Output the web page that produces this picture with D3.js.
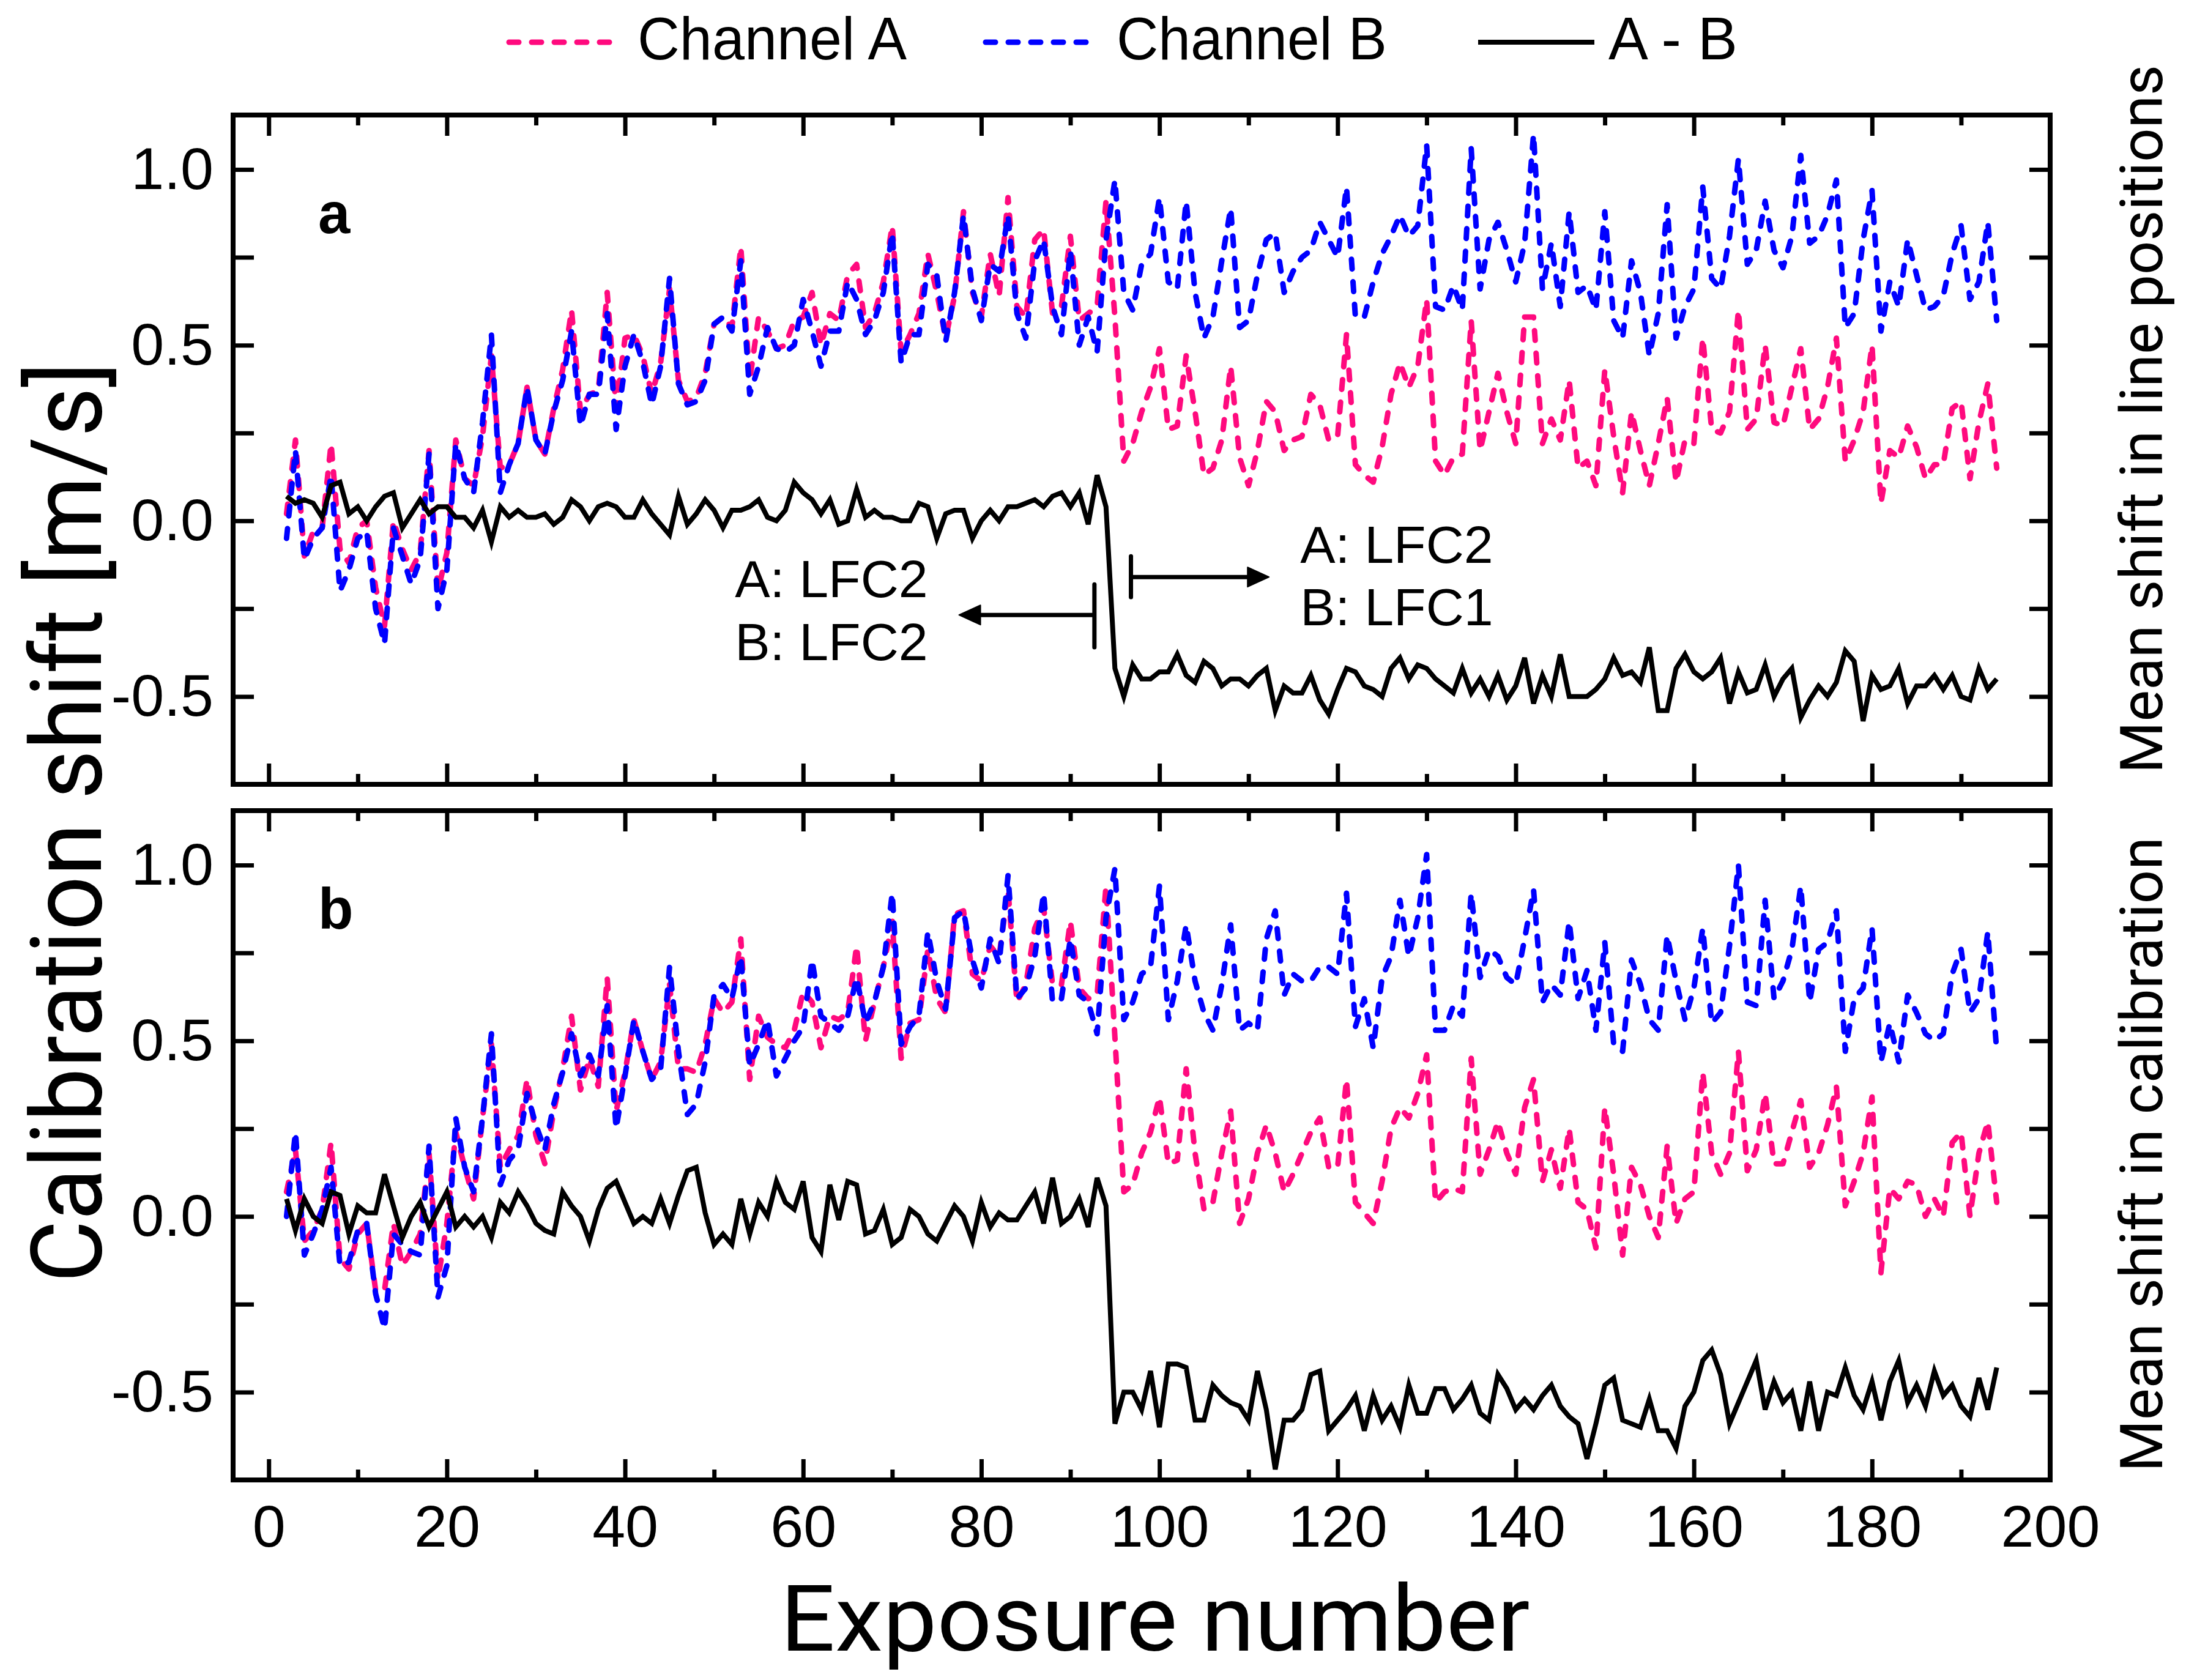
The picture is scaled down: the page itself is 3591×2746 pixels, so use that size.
<!DOCTYPE html>
<html>
<head>
<meta charset="utf-8">
<script src="https://cdn.jsdelivr.net/npm/d3@7"></script>
<style>
  body { margin: 0; background: #fff; }
</style>
</head>
<body>
<div id="chart"></div>
<script>
// exposure numbers 2..194
const exposures = d3.range(2, 195);

// panel a: mean shift in line positions
const chA_a = [
  0.02, 0.23, -0.10, -0.03, -0.02, 0.22, -0.08, -0.12, -0.02, 0.00,
  -0.19, -0.30, 0.00, -0.08, -0.14, -0.09, 0.20, -0.20, -0.09, 0.23,
  0.12, 0.10, 0.24, 0.47, 0.15, 0.16, 0.22, 0.38, 0.23, 0.19,
  0.32, 0.43, 0.60, 0.31, 0.36, 0.37, 0.65, 0.32, 0.52, 0.53,
  0.47, 0.36, 0.45, 0.66, 0.40, 0.34, 0.35, 0.42, 0.56, 0.58,
  0.55, 0.78, 0.40, 0.58, 0.54, 0.49, 0.50, 0.57, 0.58, 0.65,
  0.50, 0.59, 0.57, 0.70, 0.73, 0.55, 0.59, 0.68, 0.84, 0.48,
  0.53, 0.59, 0.76, 0.65, 0.52, 0.64, 0.88, 0.65, 0.58, 0.76,
  0.64, 0.92, 0.61, 0.58, 0.80, 0.83, 0.59, 0.61, 0.81, 0.57,
  0.59, 0.61, 0.91, 0.58, 0.17, 0.22, 0.31, 0.38, 0.49, 0.26,
  0.27, 0.47, 0.31, 0.13, 0.15, 0.23, 0.44, 0.18, 0.10, 0.20,
  0.34, 0.31, 0.20, 0.23, 0.24, 0.36, 0.33, 0.23, 0.24, 0.53,
  0.16, 0.13, 0.11, 0.21, 0.36, 0.45, 0.38, 0.44, 0.63, 0.17,
  0.13, 0.18, 0.19, 0.57, 0.20, 0.31, 0.42, 0.31, 0.22, 0.58,
  0.58, 0.22, 0.29, 0.23, 0.40, 0.15, 0.17, 0.10, 0.43, 0.24,
  0.08, 0.31, 0.20, 0.10, 0.22, 0.35, 0.11, 0.23, 0.22, 0.52,
  0.26, 0.25, 0.31, 0.60, 0.26, 0.29, 0.50, 0.28, 0.27, 0.38,
  0.49, 0.26, 0.29, 0.38, 0.52, 0.17, 0.23, 0.31, 0.50, 0.05,
  0.20, 0.18, 0.27, 0.21, 0.12, 0.16, 0.16, 0.32, 0.34, 0.12,
  0.28, 0.39, 0.15
];
const chB_a = [
  -0.05, 0.20, -0.11, -0.05, -0.02, 0.13, -0.20, -0.14, -0.05, -0.03,
  -0.25, -0.35, -0.02, -0.10, -0.18, -0.11, 0.19, -0.25, -0.14, 0.22,
  0.12, 0.08, 0.28, 0.53, 0.08, 0.16, 0.22, 0.38, 0.23, 0.19,
  0.31, 0.40, 0.54, 0.27, 0.36, 0.36, 0.59, 0.26, 0.44, 0.53,
  0.45, 0.33, 0.44, 0.69, 0.39, 0.33, 0.34, 0.40, 0.56, 0.58,
  0.54, 0.74, 0.36, 0.44, 0.55, 0.49, 0.48, 0.50, 0.63, 0.54,
  0.44, 0.54, 0.54, 0.68, 0.63, 0.53, 0.57, 0.65, 0.82, 0.45,
  0.53, 0.53, 0.73, 0.70, 0.51, 0.65, 0.87, 0.66, 0.57, 0.73,
  0.71, 0.87, 0.59, 0.52, 0.74, 0.80, 0.61, 0.53, 0.77, 0.50,
  0.58, 0.48, 0.80, 0.97, 0.65, 0.60, 0.73, 0.76, 0.92, 0.68,
  0.66, 0.91, 0.65, 0.52, 0.58, 0.74, 0.89, 0.55, 0.57, 0.70,
  0.80, 0.82, 0.65, 0.71, 0.75, 0.77, 0.85, 0.80, 0.75, 0.95,
  0.58, 0.58, 0.68, 0.76, 0.81, 0.87, 0.81, 0.84, 1.07, 0.61,
  0.60, 0.67, 0.60, 1.06, 0.66, 0.80, 0.85, 0.77, 0.68, 0.79,
  1.10, 0.66, 0.79, 0.61, 0.88, 0.65, 0.67, 0.60, 0.88, 0.57,
  0.52, 0.74, 0.65, 0.47, 0.59, 0.90, 0.52, 0.61, 0.66, 0.95,
  0.69, 0.66, 0.81, 1.03, 0.73, 0.77, 0.91, 0.77, 0.72, 0.81,
  1.04, 0.79, 0.81, 0.87, 0.97, 0.55, 0.59, 0.80, 0.94, 0.54,
  0.68, 0.61, 0.80, 0.70, 0.60, 0.61, 0.64, 0.76, 0.84, 0.63,
  0.68, 0.85, 0.57
];
const diff_a = [
  0.07, 0.05, 0.06, 0.05, 0.01, 0.10, 0.11, 0.02, 0.04, 0.00,
  0.04, 0.07, 0.08, -0.02, 0.02, 0.06, 0.02, 0.04, 0.04, 0.01,
  0.01, -0.02, 0.03, -0.06, 0.04, 0.01, 0.03, 0.01, 0.01, 0.02,
  -0.01, 0.01, 0.06, 0.04, 0.00, 0.04, 0.05, 0.04, 0.01, 0.01,
  0.06, 0.02, -0.01, -0.04, 0.07, -0.01, 0.02, 0.06, 0.03, -0.02,
  0.03, 0.03, 0.04, 0.06, 0.01, 0.00, 0.03, 0.11, 0.08, 0.06,
  0.02, 0.06, -0.01, 0.00, 0.09, 0.01, 0.03, 0.01, 0.01, 0.00,
  0.00, 0.05, 0.04, -0.05, 0.02, 0.03, 0.03, -0.05, 0.00, 0.03,
  0.00, 0.04, 0.04, 0.05, 0.06, 0.04, 0.07, 0.08, 0.04, 0.08,
  -0.01, 0.13, 0.04, -0.42, -0.50, -0.41, -0.45, -0.45, -0.43, -0.43,
  -0.38, -0.44, -0.46, -0.40, -0.42, -0.47, -0.45, -0.45, -0.47, -0.44,
  -0.42, -0.54, -0.47, -0.49, -0.49, -0.44, -0.51, -0.55, -0.48, -0.42,
  -0.43, -0.47, -0.48, -0.50, -0.42, -0.39, -0.45, -0.41, -0.42, -0.45,
  -0.47, -0.49, -0.42, -0.49, -0.45, -0.50, -0.44, -0.51, -0.47, -0.39,
  -0.52, -0.44, -0.50, -0.38, -0.50, -0.50, -0.50, -0.48, -0.45, -0.39,
  -0.44, -0.43, -0.46, -0.36, -0.54, -0.54, -0.42, -0.38, -0.43, -0.45,
  -0.43, -0.39, -0.52, -0.43, -0.49, -0.48, -0.41, -0.50, -0.45, -0.42,
  -0.56, -0.51, -0.47, -0.50, -0.46, -0.37, -0.40, -0.57, -0.44, -0.48,
  -0.47, -0.42, -0.52, -0.47, -0.47, -0.44, -0.48, -0.44, -0.50, -0.51,
  -0.42, -0.48, -0.45
];

// panel b: mean shift in calibration
const chA_b = [
  0.07, 0.19, -0.07, -0.04, 0.02, 0.21, -0.12, -0.15, -0.05, -0.02,
  -0.21, -0.21, -0.02, -0.14, -0.10, -0.05, 0.18, -0.18, -0.02, 0.24,
  0.14, 0.05, 0.28, 0.49, 0.14, 0.19, 0.23, 0.39, 0.23, 0.15,
  0.30, 0.42, 0.57, 0.36, 0.45, 0.37, 0.68, 0.30, 0.41, 0.56,
  0.47, 0.39, 0.44, 0.66, 0.42, 0.42, 0.41, 0.49, 0.62, 0.58,
  0.61, 0.79, 0.39, 0.57, 0.51, 0.49, 0.48, 0.53, 0.64, 0.61,
  0.48, 0.57, 0.56, 0.58, 0.77, 0.50, 0.61, 0.71, 0.84, 0.45,
  0.55, 0.56, 0.76, 0.62, 0.58, 0.86, 0.87, 0.69, 0.67, 0.77,
  0.74, 0.93, 0.61, 0.66, 0.82, 0.88, 0.66, 0.66, 0.84, 0.65,
  0.62, 0.63, 0.94, 0.51, 0.07, 0.09, 0.18, 0.24, 0.34, 0.15,
  0.16, 0.42, 0.18, 0.02, 0.04, 0.18, 0.30, -0.02, 0.05, 0.18,
  0.26, 0.18, 0.07, 0.12, 0.18, 0.24, 0.28, 0.14, 0.14, 0.39,
  0.04, 0.01, -0.02, 0.10, 0.25, 0.31, 0.28, 0.35, 0.46, 0.04,
  0.07, 0.08, 0.07, 0.45, 0.12, 0.19, 0.27, 0.18, 0.12, 0.31,
  0.39, 0.10, 0.19, 0.08, 0.25, 0.04, 0.02, -0.09, 0.31, 0.12,
  -0.11, 0.14, 0.09, 0.00, -0.06, 0.20, -0.02, 0.05, 0.07, 0.41,
  0.18, 0.12, 0.18, 0.47, 0.13, 0.19, 0.35, 0.15, 0.15, 0.24,
  0.33, 0.14, 0.18, 0.26, 0.37, 0.03, 0.10, 0.18, 0.34, -0.16,
  0.08, 0.05, 0.10, 0.09, 0.00, 0.05, 0.00, 0.21, 0.24, 0.00,
  0.18, 0.27, 0.04
];
const chB_b = [
  0.00, 0.24, -0.11, -0.05, 0.02, 0.14, -0.14, -0.13, -0.04, -0.02,
  -0.22, -0.32, -0.05, -0.08, -0.10, -0.11, 0.20, -0.23, -0.14, 0.28,
  0.14, 0.07, 0.28, 0.52, 0.09, 0.16, 0.19, 0.35, 0.26, 0.19,
  0.32, 0.41, 0.52, 0.40, 0.46, 0.40, 0.60, 0.25, 0.40, 0.56,
  0.47, 0.39, 0.42, 0.71, 0.47, 0.29, 0.32, 0.44, 0.63, 0.66,
  0.62, 0.74, 0.43, 0.49, 0.56, 0.40, 0.45, 0.50, 0.54, 0.73,
  0.57, 0.55, 0.53, 0.57, 0.68, 0.55, 0.61, 0.71, 0.92, 0.49,
  0.54, 0.57, 0.81, 0.67, 0.59, 0.85, 0.87, 0.73, 0.65, 0.79,
  0.72, 0.97, 0.62, 0.65, 0.74, 0.92, 0.61, 0.62, 0.79, 0.63,
  0.61, 0.52, 0.85, 0.99, 0.56, 0.61, 0.69, 0.71, 0.94, 0.56,
  0.67, 0.83, 0.67, 0.58, 0.53, 0.66, 0.83, 0.53, 0.55, 0.53,
  0.79, 0.87, 0.63, 0.69, 0.67, 0.67, 0.71, 0.71, 0.69, 0.92,
  0.54, 0.62, 0.48, 0.68, 0.74, 0.90, 0.74, 0.85, 1.03, 0.53,
  0.53, 0.60, 0.57, 0.92, 0.68, 0.76, 0.74, 0.68, 0.66, 0.79,
  0.93, 0.61, 0.66, 0.63, 0.84, 0.62, 0.70, 0.53, 0.78, 0.49,
  0.47, 0.73, 0.66, 0.56, 0.53, 0.80, 0.67, 0.56, 0.65, 0.82,
  0.55, 0.58, 0.77, 1.00, 0.61, 0.60, 0.90, 0.62, 0.67, 0.76,
  0.94, 0.61, 0.76, 0.78, 0.87, 0.47, 0.62, 0.65, 0.82, 0.44,
  0.55, 0.44, 0.63, 0.58, 0.52, 0.50, 0.52, 0.69, 0.76, 0.58,
  0.62, 0.81, 0.47
];
const diff_b = [
  0.05, -0.04, 0.05, 0.00, -0.02, 0.07, 0.06, -0.05, 0.03, 0.01,
  0.01, 0.12, 0.03, -0.06, 0.00, 0.04, -0.03, 0.02, 0.07, -0.03,
  0.00, -0.03, 0.00, -0.06, 0.04, 0.01, 0.07, 0.03, -0.02, -0.04,
  -0.05, 0.07, 0.03, 0.00, -0.07, 0.02, 0.08, 0.10, 0.04, -0.02,
  0.00, -0.02, 0.05, -0.02, 0.06, 0.13, 0.14, 0.01, -0.08, -0.05,
  -0.08, 0.05, -0.05, 0.04, 0.00, 0.10, 0.04, 0.02, 0.10, -0.06,
  -0.10, 0.09, -0.01, 0.10, 0.09, -0.05, -0.04, 0.02, -0.08, -0.06,
  0.02, 0.00, -0.05, -0.07, -0.02, 0.03, 0.00, -0.07, 0.04, -0.03,
  0.01, -0.01, -0.01, 0.03, 0.07, -0.02, 0.11, -0.02, 0.00, 0.05,
  -0.03, 0.11, 0.03, -0.59, -0.50, -0.50, -0.55, -0.44, -0.60, -0.42,
  -0.42, -0.43, -0.58, -0.58, -0.48, -0.51, -0.53, -0.54, -0.58, -0.44,
  -0.55, -0.72, -0.58, -0.58, -0.55, -0.45, -0.44, -0.61, -0.58, -0.55,
  -0.51, -0.61, -0.51, -0.58, -0.54, -0.60, -0.48, -0.56, -0.56, -0.49,
  -0.49, -0.55, -0.52, -0.48, -0.56, -0.58, -0.45, -0.49, -0.55, -0.52,
  -0.55, -0.51, -0.48, -0.54, -0.57, -0.59, -0.69, -0.59, -0.48, -0.46,
  -0.58, -0.59, -0.60, -0.52, -0.61, -0.61, -0.66, -0.54, -0.50, -0.41,
  -0.38, -0.45, -0.59, -0.53, -0.47, -0.41, -0.55, -0.47, -0.53, -0.50,
  -0.61, -0.47, -0.61, -0.50, -0.51, -0.43, -0.51, -0.55, -0.47, -0.58,
  -0.47, -0.41, -0.53, -0.48, -0.54, -0.44, -0.51, -0.48, -0.54, -0.57,
  -0.46, -0.55, -0.43
];

const xTicks = [0, 20, 40, 60, 80, 100, 120, 140, 160, 180, 200];
const xMinorTicks = [10, 30, 50, 70, 90, 110, 130, 150, 170, 190];
const yTicks = [-0.5, -0.25, 0, 0.25, 0.5, 0.75, 1.0];
const seriesNames = ["Channel A", "Channel B", "A - B"];

const colA = "#ff0a7e", colB = "#0000ff", colD = "#000";
const dashed = "16,21";

const width = 3591, height = 2746;
const svg = d3.select("#chart").append("svg")
  .attr("width", width)
  .attr("height", height)
  .style("background", "#fff");

const x = d3.scaleLinear().domain([-4, 200]).range([381, 3351]);

const panels = [
  { A: chA_a, B: chB_a, D: diff_a, top: 188, bottom: 1282, tag: "a", title: "Mean shift in line positions", titleY: 685, labels: false },
  { A: chA_b, B: chB_b, D: diff_b, top: 1325, bottom: 2419, tag: "b", title: "Mean shift in calibration", titleY: 1887, labels: true }
];

const tickFont = "'Liberation Sans', Arial, sans-serif";
const titleFont = "Roboto, 'Open Sans', sans-serif";

function styleAxis(g) {
  g.select(".domain").remove();
  g.selectAll(".tick line").attr("stroke", "#000").attr("stroke-width", 7);
  g.selectAll(".tick text").attr("font-family", tickFont).attr("font-size", 97).attr("fill", "#000");
}

panels.forEach(p => {
  const y = d3.scaleLinear().domain([-0.75, 1.155]).range([p.bottom, p.top]);
  p.y = y;

  const line = d3.line()
    .x((d, i) => x(exposures[i]))
    .y(d => y(d));

  // series
  svg.append("path").datum(p.A)
    .attr("d", line).attr("fill", "none")
    .attr("stroke", colA).attr("stroke-width", 9)
    .attr("stroke-dasharray", dashed).attr("stroke-linecap", "round")
    .attr("stroke-linejoin", "round");
  svg.append("path").datum(p.B)
    .attr("d", line).attr("fill", "none")
    .attr("stroke", colB).attr("stroke-width", 9)
    .attr("stroke-dasharray", dashed).attr("stroke-linecap", "round")
    .attr("stroke-linejoin", "round");
  svg.append("path").datum(p.D)
    .attr("d", line).attr("fill", "none")
    .attr("stroke", colD).attr("stroke-width", 8)
    .attr("stroke-linejoin", "miter");

  // axes (ticks pointing inward)
  const fmtY = d => (Math.abs(d * 2 - Math.round(d * 2)) < 1e-9 ? d.toFixed(1) : "");
  svg.append("g").attr("transform", `translate(${x.range()[0]},0)`)
    .call(d3.axisLeft(y).tickValues(yTicks).tickSize(-34).tickPadding(32).tickFormat(fmtY))
    .call(styleAxis);
  svg.append("g").attr("transform", `translate(${x.range()[1]},0)`)
    .call(d3.axisRight(y).tickValues(yTicks).tickSize(-34).tickFormat(""))
    .call(styleAxis);
  svg.append("g").attr("transform", `translate(0,${p.bottom})`)
    .call(d3.axisBottom(x).tickValues(xTicks).tickSize(-34).tickPadding(40)
      .tickFormat(p.labels ? d3.format("d") : ""))
    .call(styleAxis);
  svg.append("g").attr("transform", `translate(0,${p.bottom})`)
    .call(d3.axisBottom(x).tickValues(xMinorTicks).tickSize(-17).tickFormat(""))
    .call(styleAxis);
  svg.append("g").attr("transform", `translate(0,${p.top})`)
    .call(d3.axisTop(x).tickValues(xTicks).tickSize(-34).tickFormat(""))
    .call(styleAxis);
  svg.append("g").attr("transform", `translate(0,${p.top})`)
    .call(d3.axisTop(x).tickValues(xMinorTicks).tickSize(-17).tickFormat(""))
    .call(styleAxis);

  // frame
  svg.append("rect")
    .attr("x", x.range()[0]).attr("y", p.top)
    .attr("width", x.range()[1] - x.range()[0]).attr("height", p.bottom - p.top)
    .attr("fill", "none").attr("stroke", "#000").attr("stroke-width", 8);

  // panel tag
  svg.append("text")
    .attr("x", 520).attr("y", p.top + 193)
    .attr("font-family", tickFont).attr("font-weight", "bold").attr("font-size", 94)
    .text(p.tag);

  // right title
  svg.append("text")
    .attr("transform", `translate(3534,${p.titleY}) rotate(-90)`)
    .attr("text-anchor", "middle")
    .attr("font-family", titleFont).attr("font-size", 97)
    .text(p.title);
});

// annotations in panel a (data coordinates)
const ya = panels[0].y;
const annLeft = { text: ["A: LFC2", "B: LFC2"], x: 74, base: [-0.217, -0.397], anchor: "end" };
const annRight = { text: ["A: LFC2", "B: LFC1"], x: 115.8, base: [-0.12, -0.297], anchor: "start" };
[annLeft, annRight].forEach(a => {
  a.text.forEach((t, i) => {
    svg.append("text")
      .attr("x", x(a.x)).attr("y", ya(a.base[i]))
      .attr("text-anchor", a.anchor)
      .attr("font-family", tickFont).attr("font-size", 86)
      .text(t);
  });
});

const arrows = [
  { from: 92.7, to: 77.5, yv: -0.268, barLo: -0.360, barHi: -0.181 },
  { from: 96.8, to: 112.3, yv: -0.160, barLo: -0.217, barHi: -0.101 }
];
arrows.forEach(a => {
  const dir = a.to > a.from ? 1 : -1;
  const tipX = x(a.to), yy = ya(a.yv);
  svg.append("line")
    .attr("x1", x(a.from)).attr("x2", tipX - dir * 25)
    .attr("y1", yy).attr("y2", yy)
    .attr("stroke", "#000").attr("stroke-width", 7);
  svg.append("line")
    .attr("x1", x(a.from)).attr("x2", x(a.from))
    .attr("y1", ya(a.barLo)).attr("y2", ya(a.barHi))
    .attr("stroke", "#000").attr("stroke-width", 7).attr("stroke-linecap", "round");
  svg.append("path")
    .attr("d", `M${tipX},${yy} L${tipX - dir * 35},${yy - 16} L${tipX - dir * 35},${yy + 16} Z`)
    .attr("fill", "#000").attr("stroke", "#000").attr("stroke-width", 2)
    .attr("stroke-linejoin", "round");
});

// left axis title
svg.append("text")
  .attr("transform", "translate(165,1344) rotate(-90)")
  .attr("text-anchor", "middle")
  .attr("font-family", titleFont).attr("font-size", 162)
  .attr("textLength", 1505).attr("lengthAdjust", "spacingAndGlyphs")
  .text("Calibration shift [m/s]");

// bottom axis title
svg.append("text")
  .attr("x", 1888).attr("y", 2698)
  .attr("text-anchor", "middle")
  .attr("font-family", titleFont).attr("font-size", 150)
  .attr("textLength", 1225).attr("lengthAdjust", "spacingAndGlyphs")
  .text("Exposure number");

// legend
const legend = [
  { name: seriesNames[0], color: colA, dash: dashed, x1: 832, x2: 1000, tx: 1042, tw: 440 },
  { name: seriesNames[1], color: colB, dash: dashed, x1: 1611, x2: 1783, tx: 1825, tw: 442 },
  { name: seriesNames[2], color: colD, dash: null, x1: 2416, x2: 2606, tx: 2629, tw: 211 }
];
legend.forEach(l => {
  svg.append("line")
    .attr("x1", l.x1).attr("x2", l.x2).attr("y1", 69).attr("y2", 69)
    .attr("stroke", l.color).attr("stroke-width", l.dash ? 9 : 8)
    .attr("stroke-dasharray", l.dash)
    .attr("stroke-linecap", l.dash ? "round" : "butt");
  svg.append("text")
    .attr("x", l.tx).attr("y", 97)
    .attr("font-family", tickFont).attr("font-size", 98)
    .attr("textLength", l.tw).attr("lengthAdjust", "spacingAndGlyphs")
    .text(l.name);
});
</script>
</body>
</html>
